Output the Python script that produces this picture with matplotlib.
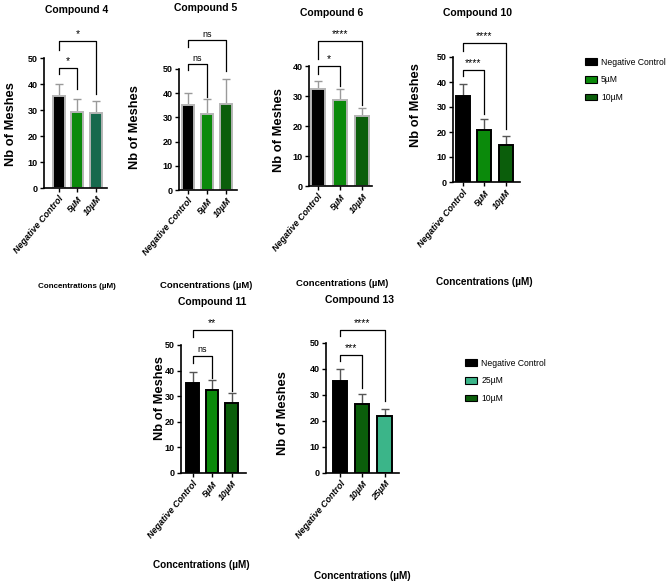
import matplotlib
matplotlib.use("Agg")
import matplotlib.pyplot as plt
from matplotlib.patches import Patch

W, H = 668, 585

# ---- data (mean, SD) ----
groups_a = ["Negative Control", "5µM", "10µM"]
groups_b = ["Negative Control", "10µM", "25µM"]

c4_mean = [35.2, 29.1, 28.8]
c4_sd = [4.9, 5.2, 4.6]
c5_mean = [35.0, 31.4, 35.6]
c5_sd = [5.2, 6.4, 10.4]
c6_mean = [32.2, 28.6, 23.3]
c6_sd = [2.8, 3.6, 2.6]
c10_mean = [34.6, 21.0, 15.0]
c10_sd = [4.6, 4.3, 3.5]
c11_mean = [35.0, 32.6, 27.2]
c11_sd = [4.6, 3.7, 3.9]
c13_mean = [35.2, 26.6, 22.0]
c13_sd = [4.9, 3.9, 2.6]

# significance: (group a, group b, label)
c4_sig = [(0, 1, "*"), (0, 2, "*")]
c5_sig = [(0, 1, "ns"), (0, 2, "ns")]
c6_sig = [(0, 1, "*"), (0, 2, "****")]
c10_sig = [(0, 1, "****"), (0, 2, "****")]
c11_sig = [(0, 1, "ns"), (0, 2, "**")]
c13_sig = [(0, 1, "***"), (0, 2, "****")]

# ---- styling ----
BLACK = "#000000"
GREEN = "#0b8a0b"
TEAL_DARK = "#16694d"
DARK = "#0b5e0b"
TEAL = "#3bb589"

SANS = ["Liberation Sans", "DejaVu Sans"]

fig = plt.figure(figsize=(W / 100, H / 100), dpi=100)


def rect(l, t, r, b):
    return [l / W, 1 - b / H, (r - l) / W, (b - t) / H]


def panel(box, means, sds, labels, colors, sig, brackets, ymax, xlim, edge, errc):
    ax = fig.add_axes(rect(*box))
    x = range(len(means))
    ax.bar(x, means, width=0.64, color=colors, edgecolor=edge, linewidth=1.4, zorder=2)
    ax.errorbar(x, means, yerr=[[0] * len(sds), sds], fmt="none", ecolor=errc,
                elinewidth=1.0, capsize=3, capthick=1.0, zorder=1)
    ax.set_ylim(0, ymax)
    ax.set_xlim(*xlim)
    ax.set_yticks(range(0, ymax + 1, 10))
    ax.set_xticks(list(x))
    ax.set_xticklabels(labels, rotation=50, ha="right", rotation_mode="anchor",
                       fontsize=6.5, fontweight="bold", fontstyle="italic", family=SANS)
    for t in ax.get_yticklabels():
        t.set_fontsize(6.5)
        t.set_fontweight("bold")
        t.set_family(SANS)
    ax.tick_params(length=3, width=1.0, pad=1.5)
    for s in ["top", "right"]:
        ax.spines[s].set_visible(False)
    for s in ["left", "bottom"]:
        ax.spines[s].set_linewidth(1.2)
    # significance brackets
    for (a, b, txt), (top, left_end, right_end) in zip(sig, brackets):
        ax.plot([a, a, b, b], [left_end, top, top, right_end], color="black",
                lw=0.9, clip_on=False, zorder=3)
        ax.text((a + b) / 2, top + 0.6, txt, ha="center", va="bottom",
                fontsize=6.5 if txt == "ns" else 7.5, family=SANS, clip_on=False)
    return ax


panel((44, 58, 107, 188), c4_mean, c4_sd, groups_a, [BLACK, GREEN, TEAL_DARK], c4_sig,
      [(46.2, 44, 38), (56.5, 53, 36)], 50, (-0.79, 2.58), "#b5b5b5", "#9a9a9a")
panel((179, 69, 237, 190), c5_mean, c5_sd, groups_a, [BLACK, GREEN, DARK], c5_sig,
      [(52, 49.5, 38.5), (62, 59, 49)], 50, (-0.46, 2.56), "#b5b5b5", "#9a9a9a")
panel((309, 66, 372, 186), c6_mean, c6_sd, groups_a, [BLACK, GREEN, DARK], c6_sig,
      [(40, 37.3, 33.3), (48.4, 42.5, 27)], 40, (-0.4, 2.45), "#b5b5b5", "#9a9a9a")
panel((453, 57, 520, 182), c10_mean, c10_sd, groups_a, [BLACK, GREEN, DARK], c10_sig,
      [(44.9, 42.5, 27.2), (55.6, 52.3, 21.4)], 50, (-0.45, 2.65), "black", "#555555")
panel((181, 345, 246, 473), c11_mean, c11_sd, groups_a, [BLACK, GREEN, DARK], c11_sig,
      [(45.7, 43.1, 37.3), (55.9, 53.3, 32)], 50, (-0.59, 2.74), "black", "#555555")
panel((326, 343, 399, 473), c13_mean, c13_sd, groups_b, [BLACK, DARK, TEAL], c13_sig,
      [(45.4, 42.9, 32.7), (55.1, 52.6, 27.6)], 50, (-0.63, 2.65), "black", "#555555")


def ftext(x, y, s, **kw):
    fig.text(x / W, 1 - y / H, s, ha="center", va="center", **kw)


# titles
for x, y, s in [(77, 10, "Compound 4"), (206, 8, "Compound 5"), (332, 13, "Compound 6"),
                (477, 13, "Compound 10"), (212, 302, "Compound 11"), (359, 300, "Compound 13")]:
    ftext(x, y, s, fontsize=7.5, fontweight="bold", family=SANS)

# y labels
for x, y in [(11, 124), (135, 127), (279, 130), (416, 105), (160, 398), (283, 413)]:
    ftext(x, y, "Nb of Meshes", fontsize=9.3, fontweight="bold", rotation=90, family=SANS)

# x labels
for x, y, fs in [(77, 287, 5.8), (206, 285, 6.8), (342, 283, 6.8), (484, 282, 7.2),
                 (201, 565, 7.2), (362, 576, 7.2)]:
    ftext(x, y, "Concentrations (µM)", fontsize=fs, fontweight="bold", family=SANS)

# legends
top_handles = [Patch(facecolor=c, edgecolor="black", linewidth=0.8) for c in [BLACK, GREEN, DARK]]
fig.legend(top_handles, groups_a, loc="upper left", bbox_to_anchor=(577 / W, 1 - 50 / H),
           frameon=False, handlelength=1.4, handleheight=0.8,
           labelspacing=1.0, handletextpad=0.5, prop={"family": SANS, "size": 6.2})
bot_handles = [Patch(facecolor=c, edgecolor="black", linewidth=0.8) for c in [BLACK, TEAL, DARK]]
fig.legend(bot_handles, ["Negative Control", "25µM", "10µM"], loc="upper left",
           bbox_to_anchor=(457 / W, 1 - 351 / H), frameon=False, handlelength=1.4,
           handleheight=0.8, labelspacing=1.0, handletextpad=0.5,
           prop={"family": SANS, "size": 6.2})

fig.savefig("out.png", dpi=100)
